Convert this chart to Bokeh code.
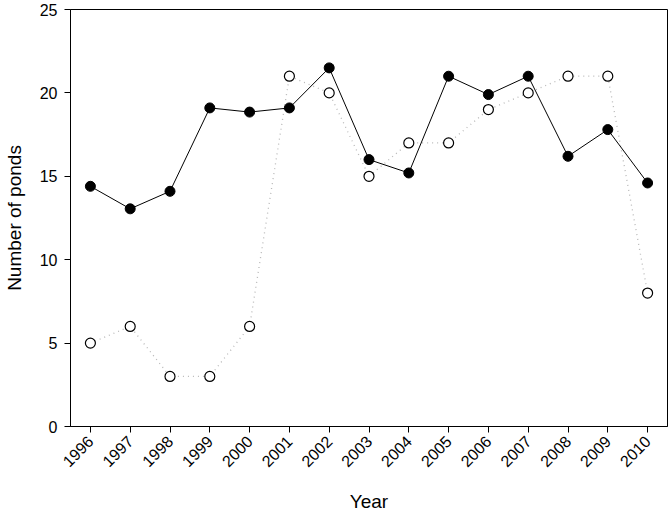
import math
from bokeh.plotting import figure
from bokeh.models import ColumnDataSource, FixedTicker
from bokeh.embed import file_html
from bokeh.resources import INLINE

years = [1996, 1997, 1998, 1999, 2000, 2001, 2002, 2003, 2004, 2005, 2006, 2007, 2008, 2009, 2010]
filled_vals = [14.4, 13.05, 14.1, 19.1, 18.85, 19.1, 21.5, 16.0, 15.2, 21.0, 19.9, 21.0, 16.2, 17.8, 14.6]
open_vals = [5, 6, 3, 3, 6, 21, 20, 15, 17, 17, 19, 20, 21, 21, 8]
y_ticks = [0, 5, 10, 15, 20, 25]

src = ColumnDataSource(dict(x=years, f=filled_vals, o=open_vals))

p = figure(frame_width=597, frame_height=417, output_backend="svg", toolbar_location=None,
           x_range=(1995.5, 2010.5), y_range=(0, 25),
           min_border_left=62, min_border_right=5, min_border_top=9, min_border_bottom=80)

p.line("x", "o", source=src, line_color="#b8b8b8", line_width=1.3, line_dash="1 4")
p.scatter("x", "o", source=src, size=10, fill_color="white", line_color="black", line_width=1.2)
p.line("x", "f", source=src, line_color="black", line_width=1)
p.scatter("x", "f", source=src, size=10, fill_color="black", line_color="black")

p.xgrid.grid_line_color = None
p.ygrid.grid_line_color = None
p.outline_line_color = "black"
p.outline_line_width = 1
p.background_fill_color = "white"
p.border_fill_color = "white"

p.xaxis.ticker = FixedTicker(ticks=years)
p.yaxis.ticker = FixedTicker(ticks=y_ticks)
p.xaxis.major_label_orientation = math.pi / 4

for ax in (p.xaxis, p.yaxis):
    ax.major_tick_in = 0
    ax.major_tick_out = 6
    ax.minor_tick_line_color = None
    ax.axis_line_color = "black"
    ax.major_tick_line_color = "black"
    ax.major_label_text_font = "Liberation Sans"
    ax.major_label_text_font_size = "16px"
    ax.major_label_text_color = "black"
    ax.axis_label_text_font = "Liberation Sans"
    ax.axis_label_text_font_size = "19px"
    ax.axis_label_text_font_style = "normal"
    ax.axis_label_text_color = "black"

p.xaxis.axis_label = "Year"
p.yaxis.axis_label = "Number of ponds"
p.yaxis.major_label_standoff = 7
p.xaxis.major_label_standoff = 6
p.yaxis.axis_label_standoff = 12
p.xaxis.axis_label_standoff = 16

open("out.html", "w").write(file_html(p, INLINE))
